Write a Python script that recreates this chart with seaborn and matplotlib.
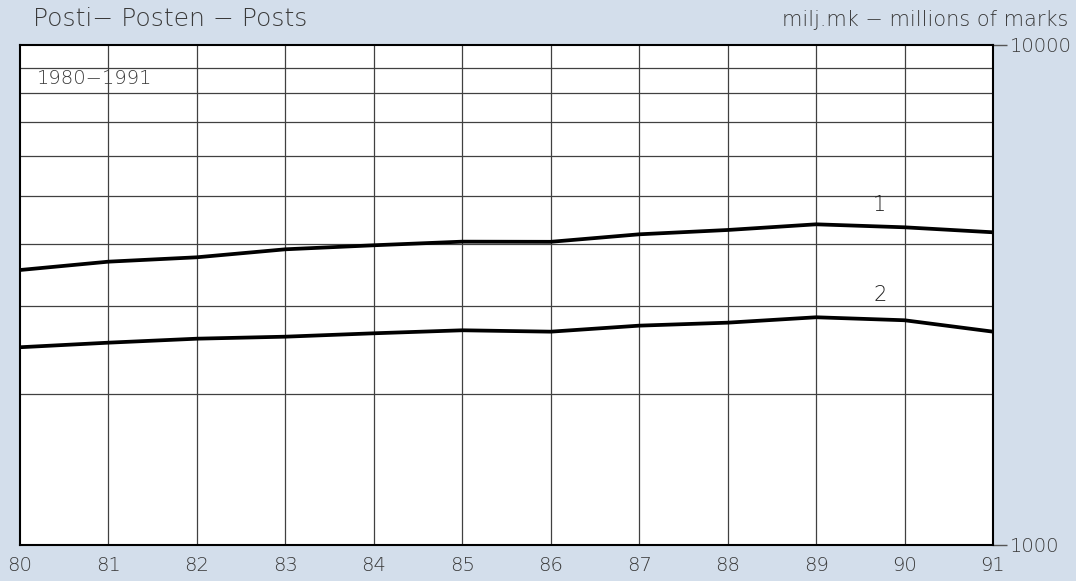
import matplotlib
matplotlib.use("Agg")
import matplotlib.pyplot as plt
import seaborn as sns
import pandas as pd
from matplotlib.ticker import FixedLocator, NullLocator, NullFormatter

years = [80, 81, 82, 83, 84, 85, 86, 87, 88, 89, 90, 91]
series1 = [3548, 3687, 3762, 3903, 3976, 4043, 4040, 4182, 4266, 4379, 4319, 4221]
series2 = [2486, 2539, 2586, 2610, 2651, 2688, 2671, 2746, 2784, 2854, 2815, 2671]
series_names = ["1", "2"]
ytick_values = [1000, 10000]
ytick_labels = ["1000", "10000"]
grid_values = [2000, 3000, 4000, 5000, 6000, 7000, 8000, 9000]

df = pd.DataFrame({
    "year": years * 2,
    "value": series1 + series2,
    "series": [series_names[0]] * len(years) + [series_names[1]] * len(years),
})

sns.set_theme(style="white")
plt.rcParams["font.family"] = ["DejaVu Sans"]
plt.rcParams["font.weight"] = "light"

bg = "#d3deeb"
txt = "#3a3a3a"
fig = plt.figure(figsize=(10.76, 5.81), dpi=100, facecolor=bg)
ax = fig.add_axes([20 / 1076, 36 / 581, (993 - 20) / 1076, (545 - 45) / 581])
ax.set_facecolor("white")

sns.lineplot(data=df, x="year", y="value", hue="series",
             palette=["black", "black"], linewidth=2.7, legend=False, ax=ax)

ax.set_yscale("log")
ax.set_xlim(80, 91)
ax.set_ylim(1000, 10000)

# grid
for g in grid_values:
    ax.axhline(g, color="#404040", lw=0.9, zorder=0.5)
for yr in years[1:-1]:
    ax.axvline(yr, color="#404040", lw=0.9, zorder=0.5)

ax.set_xticks(years)
ax.set_xticklabels([str(y) for y in years])
ax.tick_params(axis="x", length=0, pad=8, labelsize=14, labelcolor=txt)

ax.yaxis.tick_right()
ax.yaxis.set_major_locator(FixedLocator(ytick_values))
ax.set_yticklabels(ytick_labels)
ax.yaxis.set_minor_locator(NullLocator())
ax.yaxis.set_minor_formatter(NullFormatter())
ax.tick_params(axis="y", which="major", right=True, length=10, width=1,
               color="#555555", pad=2, labelsize=14, labelcolor=txt)

ax.set_xlabel("")
ax.set_ylabel("")
for s in ax.spines.values():
    s.set_color("black")
    s.set_linewidth(1.5)

# series labels
ax.text(89.72, 4786, series_names[0], fontsize=15, color="#222222",
        ha="center", va="center")
ax.text(89.72, 3162, series_names[1], fontsize=15, color="#222222",
        ha="center", va="center")
ax.text(80.19, 8590, "1980\u22121991", fontsize=14, color=txt,
        ha="left", va="center")

fig.text(33 / 1076, 1 - 19 / 581, "Posti\u2212 Posten \u2212 Posts", fontsize=18,
         color=txt, ha="left", va="center")
fig.text(1068 / 1076, 1 - 20 / 581, "milj.mk \u2212 millions of marks", fontsize=15,
         color=txt, ha="right", va="center")

fig.savefig("out.png", dpi=100, facecolor=bg)
